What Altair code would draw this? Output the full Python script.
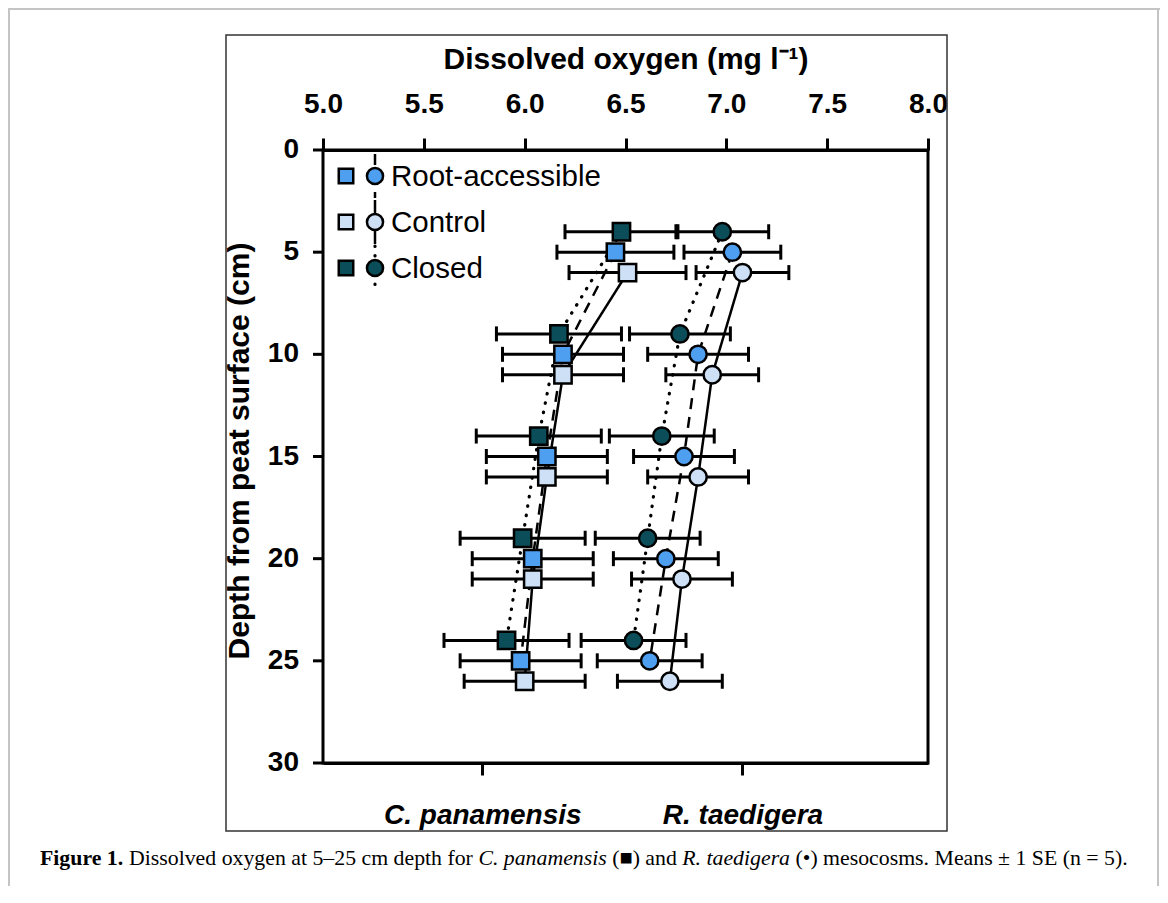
import altair as alt
import pandas as pd

# ---------------- data ----------------
depths = [5, 10, 15, 20, 25]
treatments = ["Root-accessible", "Control", "Closed"]
species = ["C. panamensis", "R. taedigera"]

# C. panamensis (squares): mean and SE of dissolved oxygen (mg/l)
cp_root = [6.45, 6.19, 6.11, 6.04, 5.98]
cp_control = [6.51, 6.19, 6.11, 6.04, 6.00]
cp_closed = [6.48, 6.17, 6.07, 5.99, 5.91]
cp_root_se = [0.29, 0.30, 0.30, 0.30, 0.30]
cp_control_se = [0.29, 0.30, 0.30, 0.30, 0.30]
cp_closed_se = [0.28, 0.31, 0.31, 0.31, 0.31]

# R. taedigera (circles)
rt_root = [7.03, 6.86, 6.79, 6.70, 6.62]
rt_control = [7.08, 6.93, 6.86, 6.78, 6.72]
rt_closed = [6.98, 6.77, 6.68, 6.61, 6.54]
rt_root_se = [0.24, 0.25, 0.25, 0.26, 0.26]
rt_control_se = [0.23, 0.23, 0.25, 0.25, 0.26]
rt_closed_se = [0.23, 0.25, 0.26, 0.26, 0.26]

x_ticks = [5.0, 5.5, 6.0, 6.5, 7.0, 7.5, 8.0]
y_ticks = [0, 5, 10, 15, 20, 25, 30]
species_tick_pos = [5.79, 7.08]
y_title = "Depth from peat surface (cm)"

# ---------------- styles / layout ----------------
depth_offset = {"Closed": -1, "Root-accessible": 0, "Control": 1}
fill_colors = ["#4f9ff0", "#cde0f6", "#0b4e5a"]
dashes = {"Root-accessible": [11, 8], "Control": [1, 0], "Closed": [0.5, 9]}
FONT = "Liberation Sans"
SERIF = "Liberation Serif"
OX, OY = 323, 150  # page position of the plot origin (for decorations)

series = {
    ("C. panamensis", "Root-accessible"): (cp_root, cp_root_se),
    ("C. panamensis", "Control"): (cp_control, cp_control_se),
    ("C. panamensis", "Closed"): (cp_closed, cp_closed_se),
    ("R. taedigera", "Root-accessible"): (rt_root, rt_root_se),
    ("R. taedigera", "Control"): (rt_control, rt_control_se),
    ("R. taedigera", "Closed"): (rt_closed, rt_closed_se),
}
rows = []
for (sp, tr), (means, ses) in series.items():
    for d, m, s in zip(depths, means, ses):
        rows.append({"species": sp, "treatment": tr, "depth": d,
                     "ypos": d + depth_offset[tr], "mean": m,
                     "lo": m - s, "hi": m + s})
df = pd.DataFrame(rows)

xscale = alt.Scale(domain=[5, 8], nice=False, zero=False)
yscale = alt.Scale(domain=[0, 30], reverse=True, nice=False, zero=False)

top_axis = alt.Axis(orient="top", values=x_ticks, format=".1f",
                    title="Dissolved oxygen (mg l\u207b\u00b9)", grid=False,
                    domainWidth=3, domainColor="black", tickWidth=3,
                    tickColor="black", tickSize=12, labelFlush=False,
                    labelFont=FONT, labelFontSize=28, labelFontWeight="bold",
                    labelColor="black", labelPadding=20,
                    titleFont=FONT, titleFontSize=30, titleFontWeight="bold",
                    titleColor="black", titlePadding=16)
bottom_axis = alt.Axis(orient="bottom", values=species_tick_pos, grid=False,
                       title=None, labelFlush=False, labelLimit=500,
                       labelExpr="datum.value < 6.5 ? 'C. panamensis' : 'R. taedigera'",
                       domainWidth=3, domainColor="black", tickWidth=3,
                       tickColor="black", tickSize=12,
                       labelFont=FONT, labelFontSize=28, labelFontWeight="bold",
                       labelFontStyle="italic", labelColor="black",
                       labelPadding=26)

base = alt.Chart(df)
color_enc = alt.Color("treatment:N",
                      scale=alt.Scale(domain=treatments, range=fill_colors),
                      legend=None)

# invisible layer that carries the top axis
axis_layer = base.mark_point(opacity=0).encode(
    x=alt.X("mean:Q", scale=xscale, axis=top_axis),
    y=alt.Y("ypos:Q", scale=yscale, axis=None))

# left (depth) axis: ticks, labels and title drawn through the y scale
yt = alt.Chart(pd.DataFrame({"v": y_ticks}))
ytick_rules = yt.mark_rule(color="black", strokeWidth=3).encode(
    x=alt.value(-10), x2=alt.value(0),
    y=alt.Y("v:Q", scale=yscale, axis=None))
ytick_labels = yt.mark_text(align="right", baseline="middle", font=FONT,
                            fontSize=28, fontWeight="bold", color="black").encode(
    x=alt.value(-24), y=alt.Y("v:Q", scale=yscale, axis=None),
    text=alt.Text("v:Q", format="d"))
ytitle = alt.Chart(pd.DataFrame({"t": [y_title]})).mark_text(
    angle=270, align="center", baseline="middle", font=FONT, fontSize=30,
    fontWeight="bold", color="black").encode(
    x=alt.value(240 - OX), y=alt.value(451 - OY), text="t:N")

# connecting lines
line_layers = []
for tr in treatments:
    cap = "round" if tr == "Closed" else "butt"
    sw = 3.2 if tr == "Closed" else 2.5
    line_layers.append(
        base.transform_filter(alt.datum.treatment == tr)
        .mark_line(color="black", strokeWidth=sw, strokeDash=dashes[tr],
                   strokeCap=cap)
        .encode(x=alt.X("mean:Q", scale=xscale, axis=None),
                y=alt.Y("ypos:Q", scale=yscale, axis=None),
                detail="species:N", order="ypos:Q")
    )

# error bars
err_rule = base.mark_rule(color="black", strokeWidth=3).encode(
    x=alt.X("lo:Q", scale=xscale, axis=bottom_axis),
    x2="hi:Q",
    y=alt.Y("ypos:Q", scale=yscale, axis=None))
cap_lo = base.mark_tick(orient="vertical", color="black", size=15,
                        thickness=3, opacity=1).encode(
    x=alt.X("lo:Q", scale=xscale, axis=None),
    y=alt.Y("ypos:Q", scale=yscale, axis=None))
cap_hi = base.mark_tick(orient="vertical", color="black", size=15,
                        thickness=3, opacity=1).encode(
    x=alt.X("hi:Q", scale=xscale, axis=None),
    y=alt.Y("ypos:Q", scale=yscale, axis=None))

# points
squares = base.transform_filter(alt.datum.species == "C. panamensis").mark_point(
    shape="square", filled=True, size=300, stroke="black", strokeWidth=2.5,
    opacity=1).encode(
    x=alt.X("mean:Q", scale=xscale, axis=None),
    y=alt.Y("ypos:Q", scale=yscale, axis=None),
    color=color_enc)
circles = base.transform_filter(alt.datum.species == "R. taedigera").mark_point(
    shape="circle", filled=True, size=300, stroke="black", strokeWidth=2.5,
    opacity=1).encode(
    x=alt.X("mean:Q", scale=xscale, axis=None),
    y=alt.Y("ypos:Q", scale=yscale, axis=None),
    color=color_enc)

# ---------------- legend (drawn inside the plot, top-left) ----------------
one = pd.DataFrame({"k": [0]})
legend_rows_y = [26, 72, 118]
legend_layers = []
for tr, col, cy in zip(treatments, fill_colors, legend_rows_y):
    cap = "round" if tr == "Closed" else "butt"
    sw = 3.2 if tr == "Closed" else 2.5
    lb = alt.Chart(one)
    legend_layers.append(lb.mark_rule(color="black", strokeWidth=sw,
                                      strokeDash=dashes[tr], strokeCap=cap).encode(
        x=alt.value(52), y=alt.value(cy - 22), y2=alt.value(cy + 22)))
    legend_layers.append(lb.mark_point(shape="square", filled=True, size=210,
                                       fill=col, stroke="black", strokeWidth=2.5,
                                       opacity=1).encode(
        x=alt.value(23), y=alt.value(cy)))
    legend_layers.append(lb.mark_point(shape="circle", filled=True, size=260,
                                       fill=col, stroke="black", strokeWidth=2.5,
                                       opacity=1).encode(
        x=alt.value(52), y=alt.value(cy)))
    legend_layers.append(lb.mark_text(text=tr, align="left", baseline="middle",
                                      font=FONT, fontSize=29.5, color="black").encode(
        x=alt.value(68), y=alt.value(cy + 1)))

# ---------------- figure frames and caption ----------------
frame_layers = [
    alt.Chart(one).mark_rect(fill="transparent", stroke="#333333",
                             strokeWidth=1.5).encode(
        x=alt.value(226 - OX), x2=alt.value(947 - OX),
        y=alt.value(35 - OY), y2=alt.value(831 - OY)),
    alt.Chart(one).mark_rule(color="#c4c4c4", strokeWidth=2).encode(
        x=alt.value(9 - OX), y=alt.value(8 - OY), y2=alt.value(900 - OY)),
    alt.Chart(one).mark_rule(color="#c4c4c4", strokeWidth=2).encode(
        x=alt.value(8 - OX), x2=alt.value(1160 - OX), y=alt.value(9 - OY)),
    alt.Chart(one).mark_rule(color="#c4c4c4", strokeWidth=2).encode(
        x=alt.value(1158 - OX), y=alt.value(8 - OY), y2=alt.value(900 - OY)),
]

# Times-metric advance widths (per 1000 em) used to chain caption pieces
W_REG = {" ": 250, "(": 333, ")": 333, ".": 250, "\u2013": 500, "\u00b1": 549,
         "=": 564, "\u2022": 350, "\u25a0": 604, "D": 722, "M": 889, "S": 556,
         "E": 611, "a": 444, "b": 500, "c": 444, "d": 500, "e": 444, "f": 333,
         "g": 500, "h": 500, "i": 278, "l": 278, "m": 778, "n": 500, "o": 500,
         "p": 500, "r": 333, "s": 389, "t": 278, "v": 500, "x": 500, "y": 500}
W_BOLD = {"F": 611, "i": 278, "g": 500, "u": 556, "r": 444, "e": 444, " ": 250,
          ".": 250}
W_ITAL = {"C": 667, ".": 250, " ": 250, "p": 500, "a": 500, "n": 500, "m": 722,
          "e": 444, "s": 389, "i": 278, "R": 611, "t": 278, "d": 500, "g": 500,
          "r": 389}


def text_width(txt, table, size):
    return sum(table.get(ch, 500) for ch in txt) * size / 1000.0


caption_parts = [
    ("Figure 1.", "bold", "normal"),
    ("Dissolved oxygen at 5\u201325 cm depth for", "normal", "normal"),
    ("C. panamensis", "normal", "italic"),
    ("(\u25a0) and", "normal", "normal"),
    ("R. taedigera", "normal", "italic"),
    ("(\u2022) mesocosms. Means \u00b1 1 SE (n = 5).", "normal", "normal"),
]
CAP_SIZE = 21.8
caption_layers = []
cx = 40.0
for txt, fw, fs in caption_parts:
    caption_layers.append(alt.Chart(one).mark_text(
        text=txt, align="left", baseline="alphabetic", font=SERIF,
        fontSize=CAP_SIZE, fontWeight=fw, fontStyle=fs, color="black").encode(
        x=alt.value(cx - OX), y=alt.value(865 - OY)))
    table = W_BOLD if fw == "bold" else (W_ITAL if fs == "italic" else W_REG)
    cx += text_width(txt, table, CAP_SIZE) + 250 * CAP_SIZE / 1000.0

chart = alt.layer(
    *frame_layers, axis_layer, ytick_rules, ytick_labels, ytitle,
    *line_layers, err_rule, cap_lo, cap_hi,
    squares, circles, *legend_layers, *caption_layers
).resolve_axis(x="independent").properties(
    width=605, height=613,
    autosize=alt.AutoSizeParams(type="none"),
    padding={"left": OX - 8, "top": OY - 8, "right": 1152 - (OX - 8) - 605,
             "bottom": 878 - (OY - 8) - 613},
    background="white",
).configure_view(stroke="black", strokeWidth=3)

chart.save("out.html", embed_options={"renderer": "svg", "actions": False})
